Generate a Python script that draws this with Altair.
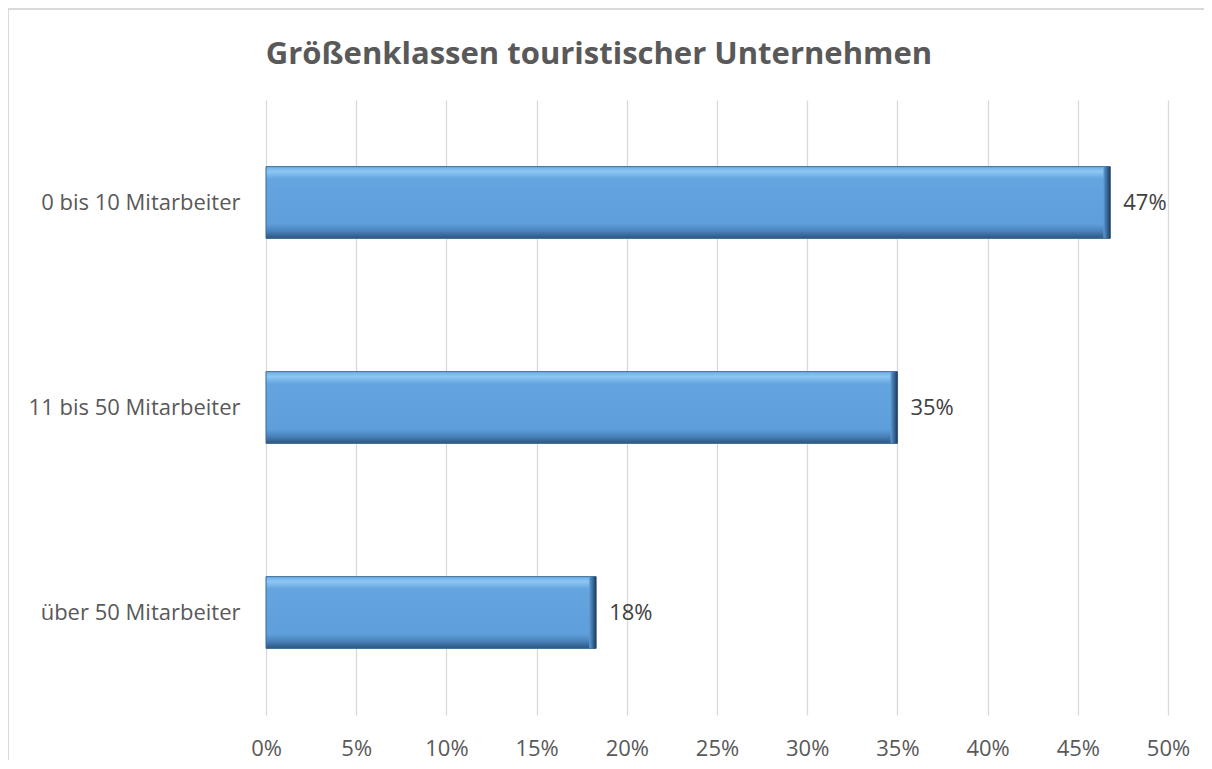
import altair as alt
import pandas as pd

title_text = "Größenklassen touristischer Unternehmen"
categories = ["0 bis 10 Mitarbeiter", "11 bis 50 Mitarbeiter", "über 50 Mitarbeiter"]
values = [46.8, 35.0, 18.3]
labels = ["47%", "35%", "18%"]
x_ticks = [0, 5, 10, 15, 20, 25, 30, 35, 40, 45, 50]

df = pd.DataFrame({"cat": categories, "val": values, "lab": labels})

FONT = "Open Sans"

y_enc = alt.Y("cat:N", sort=categories, title=None,
              scale=alt.Scale(paddingInner=0.65, paddingOuter=0.325),
              axis=alt.Axis(domain=False, ticks=False, labelPadding=26,
                            labelFontSize=22, labelColor="#595959", labelFont=FONT,
                            labelLimit=400))
x_enc = alt.X("val:Q", title=None,
              scale=alt.Scale(domain=[0, 50], nice=False),
              axis=alt.Axis(values=x_ticks, labelExpr="datum.value + '%'",
                            domain=False, ticks=False, grid=True, gridColor="#D9D9D9",
                            gridWidth=1.3, labelPadding=23, labelFontSize=22,
                            labelColor="#595959", labelFont=FONT, labelFlush=False))

grad = alt.Gradient(
    gradient="linear", x1=0, x2=0, y1=0, y2=1,
    stops=[alt.GradientStop(color="#6FAFE6", offset=0),
           alt.GradientStop(color="#8CC6F4", offset=0.07),
           alt.GradientStop(color="#64A5E0", offset=0.17),
           alt.GradientStop(color="#5E9FDB", offset=0.8),
           alt.GradientStop(color="#4A82BA", offset=0.9),
           alt.GradientStop(color="#2C5580", offset=1)])

end_grad = alt.Gradient(
    gradient="linear", x1=0, x2=1, y1=0, y2=0,
    stops=[alt.GradientStop(color="#5B9AD4", offset=0),
           alt.GradientStop(color="#3B6C9C", offset=0.5),
           alt.GradientStop(color="#1E3A58", offset=1)])

bars = alt.Chart(df).mark_bar(color=grad, stroke="#3C6A96", strokeWidth=1).encode(
    x=x_enc, y=y_enc)

ends = alt.Chart(df).transform_calculate(start="datum.val - 0.38").mark_bar(
    color=end_grad).encode(
    x=alt.X("start:Q"), x2="val:Q", y=alt.Y("cat:N", sort=categories))

text = alt.Chart(df).mark_text(align="left", baseline="middle", dx=13, fontSize=22,
                               font=FONT, color="#404040").encode(
    x="val:Q", y=alt.Y("cat:N", sort=categories), text="lab:N")

one = pd.DataFrame({"t": [title_text]})
title = alt.Chart(one).mark_text(align="center", baseline="alphabetic", fontSize=31,
                                 fontWeight="bold", font=FONT, color="#595959").encode(
    x=alt.value(333), y=alt.value(-36), text="t:N")

border_left = alt.Chart(one).mark_rule(color="#D9D9D9", strokeWidth=2).encode(
    x=alt.value(-258), y=alt.value(-91), y2=alt.value(700))
border_top = alt.Chart(one).mark_rule(color="#D9D9D9", strokeWidth=2).encode(
    x=alt.value(-258), x2=alt.value(1000), y=alt.value(-91))

chart = alt.layer(bars, ends, text, title, border_left, border_top).properties(
    width=902, height=615,
    autosize=alt.AutoSizeParams(type="none"),
    padding={"left": 258, "top": 92, "right": 36, "bottom": 45},
).configure_view(stroke=None)

chart.save("out.html", embed_options={"renderer": "svg", "actions": False})
